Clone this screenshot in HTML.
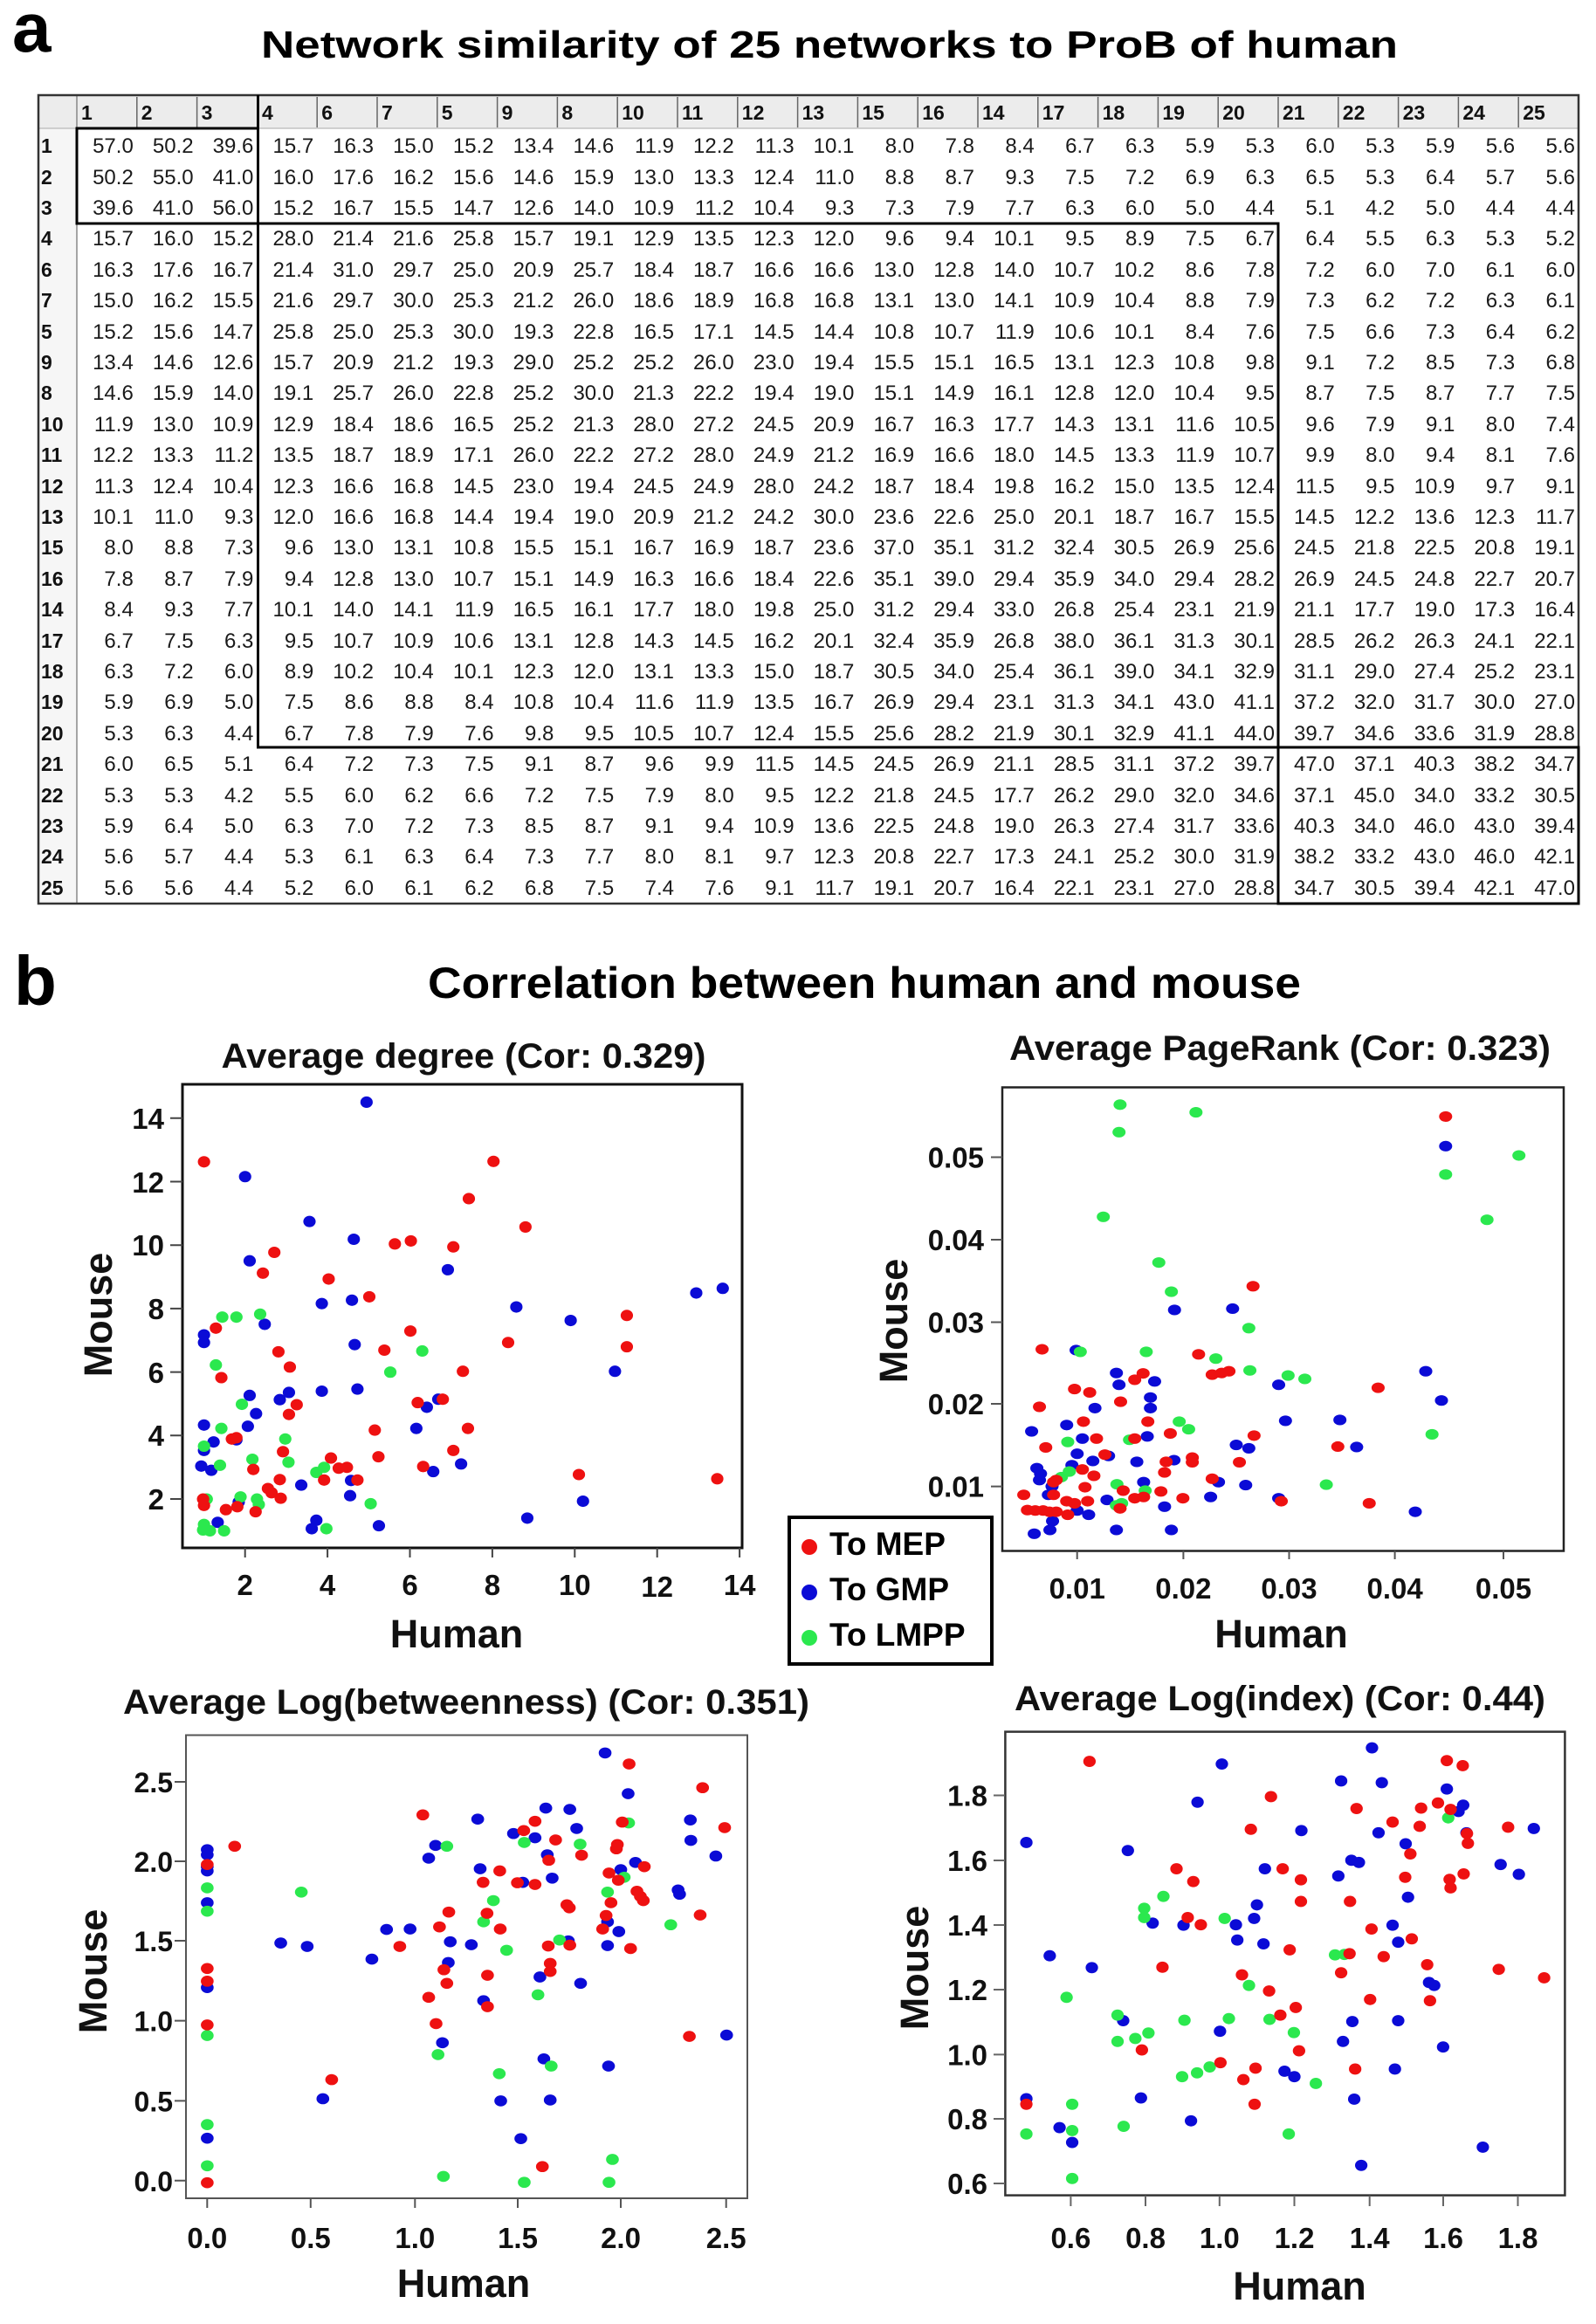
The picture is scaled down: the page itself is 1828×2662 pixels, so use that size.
<!DOCTYPE html>
<html><head><meta charset="utf-8">
<style>
html,body{margin:0;padding:0;background:#fff}
#wrap{position:relative;width:1828px;height:2662px;overflow:hidden;background:#fff}
svg{position:absolute;left:0;top:0}
.g{position:absolute;left:88px;top:150.3px;display:grid;grid-template-columns:repeat(25,68.8px);grid-auto-rows:35.4px;font:24px "Liberation Sans",Arial,sans-serif;color:#1a1a1a;line-height:35.4px}
.g i{font-style:normal;text-align:right;padding-right:4px;white-space:nowrap}
.r{position:absolute;left:47px;top:150.3px;display:grid;grid-auto-rows:35.4px;font:bold 23px "Liberation Sans",Arial,sans-serif;color:#111;line-height:35.4px}
</style></head><body><div id="wrap">
<svg width="1828" height="2662" viewBox="0 0 1828 2662" xmlns="http://www.w3.org/2000/svg" font-family="'Liberation Sans',Arial,sans-serif">
<!-- table backgrounds -->
<rect x="44" y="109" width="1764" height="38" fill="#ececec"/>
<rect x="44" y="147" width="44" height="888" fill="#f6f6f6"/>
<!-- titles -->
<text x="14" y="59" font-size="80" font-weight="bold" fill="#000">a</text>
<text x="299" y="66" font-size="44" font-weight="bold" fill="#000" textLength="1302" lengthAdjust="spacingAndGlyphs">Network similarity of 25 networks to ProB of human</text>
<!-- header separators -->
<g stroke="#666" stroke-width="1.5">
<path d="M156.8 111V146M225.6 111V146M363.2 111V146M432 111V146M500.8 111V146M569.6 111V146M638.4 111V146M707.2 111V146M776 111V146M844.8 111V146M913.6 111V146M982.4 111V146M1051.2 111V146M1120 111V146M1188.8 111V146M1257.6 111V146M1326.4 111V146M1395.2 111V146M1464 111V146M1532.8 111V146M1601.6 111V146M1670.4 111V146M1739.2 111V146"/>
</g>
<line x1="44" y1="147" x2="1808" y2="147" stroke="#aaa" stroke-width="1"/>
<line x1="88" y1="109" x2="88" y2="1035" stroke="#888" stroke-width="1.5"/>
<!-- header labels -->
<g font-size="23" font-weight="bold" fill="#111">
<text x="93" y="137">1</text><text x="161.8" y="137">2</text><text x="230.6" y="137">3</text><text x="300" y="137">4</text><text x="368.2" y="137">6</text><text x="437" y="137">7</text><text x="505.8" y="137">5</text><text x="574.6" y="137">9</text><text x="643.4" y="137">8</text><text x="712.2" y="137">10</text><text x="781" y="137">11</text><text x="849.8" y="137">12</text><text x="918.6" y="137">13</text><text x="987.4" y="137">15</text><text x="1056.2" y="137">16</text><text x="1125" y="137">14</text><text x="1193.8" y="137">17</text><text x="1262.6" y="137">18</text><text x="1331.4" y="137">19</text><text x="1400.2" y="137">20</text><text x="1469" y="137">21</text><text x="1537.8" y="137">22</text><text x="1606.6" y="137">23</text><text x="1675.4" y="137">24</text><text x="1744.2" y="137">25</text>
</g>
<!-- outer border and blocks -->
<rect x="44" y="109" width="1764" height="926" fill="none" stroke="#333" stroke-width="2.5"/>
<g fill="none" stroke="#000" stroke-width="3">
<rect x="88" y="147" width="207.5" height="109"/>
<line x1="295.5" y1="109" x2="295.5" y2="147"/>
<rect x="295.5" y="256" width="1168.5" height="600"/>
<rect x="1464" y="856" width="344" height="179"/>
</g>

<!-- section b -->
<text x="16" y="1151" font-size="80" font-weight="bold" fill="#000">b</text>
<text x="490" y="1143" font-size="50" font-weight="bold" fill="#000" textLength="1000" lengthAdjust="spacingAndGlyphs">Correlation between human and mouse</text>

<!-- Panel 1 -->
<text x="253.5" y="1223" font-size="40" font-weight="bold" fill="#111" textLength="555" lengthAdjust="spacingAndGlyphs">Average degree (Cor: 0.329)</text>
<rect x="209" y="1242" width="641" height="531" fill="none" stroke="#111" stroke-width="3"/>
<path d="M195 1717H209M195 1644.3H209M195 1571.6H209M195 1498.9H209M195 1426.2H209M195 1353.5H209M195 1280.8H209M280.7 1773V1784M375.1 1773V1784M469.5 1773V1784M563.9 1773V1784M658.3 1773V1784M752.7 1773V1784M847.1 1773V1784" stroke="#444" stroke-width="2"/>
<g font-size="33" font-weight="bold" fill="#111" text-anchor="end">
<text x="188" y="1729">2</text><text x="188" y="1656">4</text><text x="188" y="1584">6</text><text x="188" y="1511">8</text><text x="188" y="1438">10</text><text x="188" y="1366">12</text><text x="188" y="1293">14</text>
</g>
<g font-size="33" font-weight="bold" fill="#111" text-anchor="middle">
<text x="280.7" y="1827">2</text><text x="375.1" y="1827">4</text><text x="469.5" y="1827">6</text><text x="563.9" y="1827">8</text><text x="658.3" y="1827">10</text><text x="752.7" y="1829">12</text><text x="847.1" y="1827">14</text>
</g>
<text x="523" y="1887" font-size="45" font-weight="bold" text-anchor="middle" fill="#111">Human</text>
<text transform="translate(128 1506) rotate(-90)" font-size="45" font-weight="bold" text-anchor="middle" fill="#111">Mouse</text>
<g transform="translate(60 1150) scale(0.523 0.4847)" stroke-linecap="round" stroke-width="27" fill="none">
<path stroke="#0b0bd6" d="M688 232h.1M422 408h.1M563 514h.1M660 556h.1M432 607h.1M866 628h.1M590 708h.1M656 700h.1M465 757h.1M332 782h.1M332 800h.1M1410 683h.1M1468 672h.1M1016 716h.1M1135 748h.1M662 805h.1M1232 868h.1M432 925h.1M498 935h.1M518 918h.1M590 915h.1M668 910h.1M446 968h.1M428 998h.1M332 995h.1M353 1035h.1M403 1030h.1M332 1055h.1M326 1092h.1M348 1102h.1M545 1137h.1M654 1126h.1M652 1162h.1M820 953h.1M797 1003h.1M845 934h.1M895 1087h.1M834 1105h.1M1162 1175h.1M1040 1215h.1M715 1233h.1M362 1225h.1M568 1240h.1M578 1220h.1M408 1177h.1"/>
<path stroke="#2be84e" d="M372 740h.1M403 740h.1M455 733h.1M358 853h.1M740 870h.1M810 820h.1M415 946h.1M370 1003h.1M510 1028h.1M332 1045h.1M367 1090h.1M438 1076h.1M517 1083h.1M595 1095h.1M578 1107h.1M338 1170h.1M412 1165h.1M448 1170h.1M452 1183h.1M697 1181h.1M332 1230h.1M345 1245h.1M376 1245h.1M600 1240h.1M330 1243h.1"/>
<path stroke="#ee1111" d="M332 373h.1M966 372h.1M912 460h.1M1036 527h.1M750 567h.1M785 560h.1M878 574h.1M486 587h.1M461 636h.1M605 650h.1M694 692h.1M358 766h.1M495 822h.1M520 858h.1M370 883h.1M727 818h.1M784 773h.1M998 800h.1M1258 736h.1M1258 810h.1M899 868h.1M535 947h.1M518 970h.1M800 942h.1M855 934h.1M706 1007h.1M910 1003h.1M393 1028h.1M403 1025h.1M505 1058h.1M878 1055h.1M714 1070h.1M812 1093h.1M610 1073h.1M627 1097h.1M645 1095h.1M440 1100h.1M498 1124h.1M472 1145h.1M480 1155h.1M500 1168h.1M595 1125h.1M668 1125h.1M1153 1112h.1M1456 1122h.1M330 1170h.1M332 1185h.1M380 1195h.1M405 1188h.1M445 1200h.1"/>
</g>

<!-- Panel 2 -->
<text x="1156" y="1214" font-size="40" font-weight="bold" fill="#111" textLength="620" lengthAdjust="spacingAndGlyphs">Average PageRank (Cor: 0.323)</text>
<rect x="1148" y="1245.5" width="643" height="531" fill="none" stroke="#222" stroke-width="2.5"/>
<path d="M1135 1702.6H1148M1135 1608H1148M1135 1514.5H1148M1135 1420H1148M1135 1325.5H1148M1233.7 1776.5V1786M1355.4 1776.5V1786M1476.5 1776.5V1786M1597.6 1776.5V1786M1722 1776.5V1786" stroke="#555" stroke-width="2"/>
<g font-size="33" font-weight="bold" fill="#111" text-anchor="end">
<text x="1127" y="1714.6">0.01</text><text x="1127" y="1620">0.02</text><text x="1127" y="1526.5">0.03</text><text x="1127" y="1432">0.04</text><text x="1127" y="1337.5">0.05</text>
</g>
<g font-size="33" font-weight="bold" fill="#111" text-anchor="middle">
<text x="1233.7" y="1831">0.01</text><text x="1355.4" y="1831">0.02</text><text x="1476.5" y="1831">0.03</text><text x="1597.6" y="1831">0.04</text><text x="1722" y="1831">0.05</text>
</g>
<text x="1467.5" y="1887" font-size="45" font-weight="bold" text-anchor="middle" fill="#111">Human</text>
<text transform="translate(1039 1513) rotate(-90)" font-size="45" font-weight="bold" text-anchor="middle" fill="#111">Mouse</text>
<g transform="translate(880 1150) scale(0.5995 0.4847)" stroke-linecap="round" stroke-width="25" fill="none">
<path stroke="#0b0bd6" d="M588 818h.1M665 872h.1M670 900h.1M738 892h.1M730 930h.1M730 955h.1M776 723h.1M887 720h.1M624 955h.1M570 995h.1M503 1010h.1M600 1027h.1M590 1063h.1M724 1022h.1M520 1110h.1M513 1097h.1M518 1125h.1M542 1140h.1M535 1160h.1M620 1080h.1M650 1068h.1M704 1082h.1M717 1130h.1M775 1078h.1M894 1042h.1M918 1050h.1M912 1137h.1M860 1130h.1M845 1165h.1M975 900h.1M988 985h.1M1092 983h.1M1124 1047h.1M1256 868h.1M1286 937h.1M1236 1200h.1M975 1168h.1M757 1188h.1M612 1207h.1M590 1197h.1M665 1243h.1M770 1243h.1M508 1252h.1M538 1243h.1M543 1222h.1M647 1172h.1M580 1090h.1M1294 336h.1"/>
<path stroke="#2be84e" d="M672 238h.1M817 256h.1M670 303h.1M640 503h.1M746 611h.1M770 680h.1M918 766h.1M855 838h.1M920 866h.1M993 878h.1M1025 886h.1M722 822h.1M596 822h.1M1434 358h.1M1294 403h.1M1373 510h.1M1268 1017h.1M1066 1136h.1M785 987h.1M803 1005h.1M690 1030h.1M572 1035h.1M575 1105h.1M560 1118h.1M666 1135h.1M675 1180h.1M665 1185h.1M720 1150h.1"/>
<path stroke="#ee1111" d="M1294 266h.1M926 667h.1M523 816h.1M822 828h.1M518 952h.1M585 910h.1M614 918h.1M673 940h.1M700 888h.1M716 873h.1M725 987h.1M602 987h.1M530 1048h.1M627 1027h.1M700 1027h.1M768 1015h.1M848 876h.1M866 872h.1M880 868h.1M928 1020h.1M1165 907h.1M1088 1046h.1M1148 1180h.1M900 1083h.1M848 1122h.1M810 1072h.1M810 1083h.1M760 1082h.1M757 1107h.1M750 1152h.1M792 1168h.1M717 1165h.1M700 1168h.1M672 1192h.1M643 1065h.1M622 1115h.1M605 1142h.1M610 1175h.1M585 1180h.1M570 1175h.1M600 1100h.1M545 1130h.1M545 1160h.1M550 1125h.1M488 1160h.1M495 1196h.1M510 1197h.1M525 1197h.1M537 1200h.1M550 1200h.1M572 1207h.1M980 1175h.1M678 1150h.1"/>
</g>

<!-- Legend -->
<rect x="904" y="1738" width="232" height="168" fill="#fff" stroke="#000" stroke-width="4"/>
<circle cx="927" cy="1772" r="9" fill="#ee1111"/>
<circle cx="927" cy="1824" r="9" fill="#0b0bd6"/>
<circle cx="927" cy="1876" r="9" fill="#2be84e"/>
<g font-size="37" font-weight="bold" fill="#000">
<text x="950" y="1781">To MEP</text><text x="950" y="1833">To GMP</text><text x="950" y="1885">To LMPP</text>
</g>

<!-- Panel 3 -->
<text x="141" y="1963" font-size="40" font-weight="bold" fill="#111" textLength="786" lengthAdjust="spacingAndGlyphs">Average Log(betweenness) (Cor: 0.351)</text>
<rect x="213" y="1987.5" width="643" height="530.5" fill="none" stroke="#555" stroke-width="2"/>
<path d="M200 2041H213M200 2132H213M200 2223H213M200 2314.6H213M200 2406.4H213M200 2497.8H213M237.3 2518V2529M355.8 2518V2529M475.3 2518V2529M593 2518V2529M711 2518V2529M831.7 2518V2529" stroke="#555" stroke-width="2"/>
<g font-size="32" font-weight="bold" fill="#111" text-anchor="end">
<text x="198" y="2053">2.5</text><text x="198" y="2144">2.0</text><text x="198" y="2235">1.5</text><text x="198" y="2326.6">1.0</text><text x="198" y="2418.4">0.5</text><text x="198" y="2509.8">0.0</text>
</g>
<g font-size="33" font-weight="bold" fill="#111" text-anchor="middle">
<text x="237.3" y="2575">0.0</text><text x="355.8" y="2575">0.5</text><text x="475.3" y="2575">1.0</text><text x="593" y="2575">1.5</text><text x="711" y="2575">2.0</text><text x="831.7" y="2575">2.5</text>
</g>
<text x="531" y="2631" font-size="45" font-weight="bold" text-anchor="middle" fill="#111">Human</text>
<text transform="translate(122 2258) rotate(-90)" font-size="45" font-weight="bold" text-anchor="middle" fill="#111">Mouse</text>
<g transform="translate(60 1900) scale(0.5612 0.486)" stroke-linecap="round" stroke-width="26" fill="none">
<path stroke="#0b0bd6" d="M1128 222h.1M1175 318h.1M1007 352h.1M1056 355h.1M868 378h.1M1302 380h.1M1070 400h.1M941 412h.1M985 422h.1M1303 428h.1M782 440h.1M768 470h.1M1010 462h.1M1354 465h.1M1190 480h.1M1160 497h.1M873 495h.1M960 527h.1M1020 517h.1M1277 545h.1M1280 555h.1M316 450h.1M316 462h.1M316 490h.1M316 500h.1M316 575h.1M466 670h.1M520 678h.1M652 708h.1M682 638h.1M730 637h.1M812 667h.1M855 674h.1M808 716h.1M1053 665h.1M1133 676h.1M1133 620h.1M1156 643h.1M995 750h.1M1078 765h.1M880 806h.1M796 905h.1M1003 943h.1M1135 960h.1M1376 887h.1M552 1037h.1M915 1042h.1M1016 1040h.1M956 1131h.1M316 1130h.1M316 775h.1"/>
<path stroke="#2be84e" d="M805 442h.1M963 433h.1M1077 437h.1M1176 387h.1M1167 515h.1M508 550h.1M316 540h.1M316 595h.1M900 570h.1M880 620h.1M927 687h.1M1035 663h.1M1133 550h.1M1262 627h.1M991 792h.1M787 933h.1M912 978h.1M1018 960h.1M316 888h.1M316 1098h.1M316 1195h.1M798 1220h.1M963 1234h.1M1143 1180h.1M1136 1234h.1"/>
<path stroke="#ee1111" d="M756 368h.1M1177 248h.1M1327 304h.1M985 383h.1M962 405h.1M1027 427h.1M1080 463h.1M1153 438h.1M1151 448h.1M1163 385h.1M1208 490h.1M372 442h.1M316 485h.1M879 527h.1M913 500h.1M949 528h.1M985 532h.1M1013 475h.1M1136 505h.1M1155 522h.1M1193 548h.1M1200 560h.1M1206 570h.1M1140 575h.1M1130 605h.1M1050 580h.1M1055 587h.1M809 597h.1M887 600h.1M790 632h.1M914 637h.1M709 678h.1M1012 677h.1M1056 675h.1M1123 637h.1M1180 683h.1M1322 604h.1M799 733h.1M805 765h.1M888 746h.1M1016 718h.1M1016 737h.1M768 798h.1M888 820h.1M783 860h.1M316 730h.1M316 760h.1M316 863h.1M1300 890h.1M570 992h.1M1000 1197h.1M316 1235h.1M1372 398h.1"/>
</g>

<!-- Panel 4 -->
<text x="1162" y="1959" font-size="40" font-weight="bold" fill="#111" textLength="608" lengthAdjust="spacingAndGlyphs">Average Log(index) (Cor: 0.44)</text>
<rect x="1151.4" y="1983.6" width="641" height="531" fill="none" stroke="#333" stroke-width="2.5"/>
<path d="M1138 2056.5H1151M1138 2131H1151M1138 2205H1151M1138 2279H1151M1138 2353.4H1151M1138 2427H1151M1138 2501H1151M1226.4 2515V2527M1312 2515V2527M1396.8 2515V2527M1482.5 2515V2527M1568.7 2515V2527M1653 2515V2527M1738.5 2515V2527" stroke="#666" stroke-width="2"/>
<g font-size="33" font-weight="bold" fill="#111" text-anchor="end">
<text x="1131" y="2068.5">1.8</text><text x="1131" y="2143">1.6</text><text x="1131" y="2217">1.4</text><text x="1131" y="2291">1.2</text><text x="1131" y="2365.4">1.0</text><text x="1131" y="2439">0.8</text><text x="1131" y="2513">0.6</text>
</g>
<g font-size="33" font-weight="bold" fill="#111" text-anchor="middle">
<text x="1226.4" y="2575">0.6</text><text x="1312" y="2575">0.8</text><text x="1396.8" y="2575">1.0</text><text x="1482.5" y="2575">1.2</text><text x="1568.7" y="2575">1.4</text><text x="1653" y="2575">1.6</text><text x="1738.5" y="2575">1.8</text>
</g>
<text x="1488.5" y="2634" font-size="45" font-weight="bold" text-anchor="middle" fill="#111">Human</text>
<text transform="translate(1063 2254) rotate(-90)" font-size="45" font-weight="bold" text-anchor="middle" fill="#111">Mouse</text>
<g transform="translate(980 1900) scale(0.5357 0.486)" stroke-linecap="round" stroke-width="26.5" fill="none">
<path stroke="#0b0bd6" d="M1104 210h.1M783 248h.1M1038 288h.1M1125 292h.1M731 338h.1M1264 307h.1M1299 345h.1M1289 360h.1M953 405h.1M1118 410h.1M1306 410h.1M1450 400h.1M365 433h.1M582 452h.1M1176 436h.1M875 495h.1M1032 512h.1M1060 475h.1M1076 480h.1M1379 485h.1M1418 508h.1M1181 562h.1M858 580h.1M852 612h.1M635 623h.1M701 628h.1M813 627h.1M816 663h.1M872 672h.1M1148 628h.1M1160 668h.1M415 700h.1M505 728h.1M1226 763h.1M1237 770h.1M572 853h.1M779 878h.1M1062 855h.1M1160 853h.1M1042 902h.1M1256 915h.1M917 972h.1M938 985h.1M1153 967h.1M365 1037h.1M610 1035h.1M717 1089h.1M436 1105h.1M463 1140h.1M1066 1038h.1M1341 1151h.1M1081 1194h.1"/>
<path stroke="#2be84e" d="M1267 375h.1M658 560h.1M617 588h.1M617 610h.1M789 612h.1M1025 698h.1M1045 697h.1M841 770h.1M451 798h.1M560 840h.1M560 902h.1M598 895h.1M626 882h.1M703 852h.1M798 848h.1M885 850h.1M937 881h.1M698 985h.1M730 976h.1M757 962h.1M984 1001h.1M365 1120h.1M463 1050h.1M463 1112h.1M573 1102h.1M926 1120h.1M463 1225h.1"/>
<path stroke="#ee1111" d="M500 242h.1M1264 240h.1M1298 252h.1M888 325h.1M1071 353h.1M1209 352h.1M1245 340h.1M1272 355h.1M1148 385h.1M845 402h.1M1206 395h.1M1395 397h.1M1307 412h.1M1309 435h.1M686 495h.1M722 525h.1M913 495h.1M952 521h.1M1186 460h.1M1270 520h.1M1272 540h.1M1300 507h.1M1175 515h.1M952 572h.1M1057 572h.1M710 610h.1M738 627h.1M1103 637h.1M1189 660h.1M928 686h.1M1056 695h.1M1129 702h.1M1222 721h.1M1038 740h.1M1375 732h.1M1472 752h.1M656 727h.1M826 745h.1M884 783h.1M1100 803h.1M1228 806h.1M908 840h.1M941 822h.1M612 922h.1M948 924h.1M780 952h.1M829 992h.1M855 965h.1M1068 967h.1M853 1050h.1M365 1050h.1"/>
</g>
</svg>

<div class="r"><b>1</b><b>2</b><b>3</b><b>4</b><b>6</b><b>7</b><b>5</b><b>9</b><b>8</b><b>10</b><b>11</b><b>12</b><b>13</b><b>15</b><b>16</b><b>14</b><b>17</b><b>18</b><b>19</b><b>20</b><b>21</b><b>22</b><b>23</b><b>24</b><b>25</b></div>

<div class="g">
<i>57.0</i><i>50.2</i><i>39.6</i><i>15.7</i><i>16.3</i><i>15.0</i><i>15.2</i><i>13.4</i><i>14.6</i><i>11.9</i><i>12.2</i><i>11.3</i><i>10.1</i><i>8.0</i><i>7.8</i><i>8.4</i><i>6.7</i><i>6.3</i><i>5.9</i><i>5.3</i><i>6.0</i><i>5.3</i><i>5.9</i><i>5.6</i><i>5.6</i>
<i>50.2</i><i>55.0</i><i>41.0</i><i>16.0</i><i>17.6</i><i>16.2</i><i>15.6</i><i>14.6</i><i>15.9</i><i>13.0</i><i>13.3</i><i>12.4</i><i>11.0</i><i>8.8</i><i>8.7</i><i>9.3</i><i>7.5</i><i>7.2</i><i>6.9</i><i>6.3</i><i>6.5</i><i>5.3</i><i>6.4</i><i>5.7</i><i>5.6</i>
<i>39.6</i><i>41.0</i><i>56.0</i><i>15.2</i><i>16.7</i><i>15.5</i><i>14.7</i><i>12.6</i><i>14.0</i><i>10.9</i><i>11.2</i><i>10.4</i><i>9.3</i><i>7.3</i><i>7.9</i><i>7.7</i><i>6.3</i><i>6.0</i><i>5.0</i><i>4.4</i><i>5.1</i><i>4.2</i><i>5.0</i><i>4.4</i><i>4.4</i>
<i>15.7</i><i>16.0</i><i>15.2</i><i>28.0</i><i>21.4</i><i>21.6</i><i>25.8</i><i>15.7</i><i>19.1</i><i>12.9</i><i>13.5</i><i>12.3</i><i>12.0</i><i>9.6</i><i>9.4</i><i>10.1</i><i>9.5</i><i>8.9</i><i>7.5</i><i>6.7</i><i>6.4</i><i>5.5</i><i>6.3</i><i>5.3</i><i>5.2</i>
<i>16.3</i><i>17.6</i><i>16.7</i><i>21.4</i><i>31.0</i><i>29.7</i><i>25.0</i><i>20.9</i><i>25.7</i><i>18.4</i><i>18.7</i><i>16.6</i><i>16.6</i><i>13.0</i><i>12.8</i><i>14.0</i><i>10.7</i><i>10.2</i><i>8.6</i><i>7.8</i><i>7.2</i><i>6.0</i><i>7.0</i><i>6.1</i><i>6.0</i>
<i>15.0</i><i>16.2</i><i>15.5</i><i>21.6</i><i>29.7</i><i>30.0</i><i>25.3</i><i>21.2</i><i>26.0</i><i>18.6</i><i>18.9</i><i>16.8</i><i>16.8</i><i>13.1</i><i>13.0</i><i>14.1</i><i>10.9</i><i>10.4</i><i>8.8</i><i>7.9</i><i>7.3</i><i>6.2</i><i>7.2</i><i>6.3</i><i>6.1</i>
<i>15.2</i><i>15.6</i><i>14.7</i><i>25.8</i><i>25.0</i><i>25.3</i><i>30.0</i><i>19.3</i><i>22.8</i><i>16.5</i><i>17.1</i><i>14.5</i><i>14.4</i><i>10.8</i><i>10.7</i><i>11.9</i><i>10.6</i><i>10.1</i><i>8.4</i><i>7.6</i><i>7.5</i><i>6.6</i><i>7.3</i><i>6.4</i><i>6.2</i>
<i>13.4</i><i>14.6</i><i>12.6</i><i>15.7</i><i>20.9</i><i>21.2</i><i>19.3</i><i>29.0</i><i>25.2</i><i>25.2</i><i>26.0</i><i>23.0</i><i>19.4</i><i>15.5</i><i>15.1</i><i>16.5</i><i>13.1</i><i>12.3</i><i>10.8</i><i>9.8</i><i>9.1</i><i>7.2</i><i>8.5</i><i>7.3</i><i>6.8</i>
<i>14.6</i><i>15.9</i><i>14.0</i><i>19.1</i><i>25.7</i><i>26.0</i><i>22.8</i><i>25.2</i><i>30.0</i><i>21.3</i><i>22.2</i><i>19.4</i><i>19.0</i><i>15.1</i><i>14.9</i><i>16.1</i><i>12.8</i><i>12.0</i><i>10.4</i><i>9.5</i><i>8.7</i><i>7.5</i><i>8.7</i><i>7.7</i><i>7.5</i>
<i>11.9</i><i>13.0</i><i>10.9</i><i>12.9</i><i>18.4</i><i>18.6</i><i>16.5</i><i>25.2</i><i>21.3</i><i>28.0</i><i>27.2</i><i>24.5</i><i>20.9</i><i>16.7</i><i>16.3</i><i>17.7</i><i>14.3</i><i>13.1</i><i>11.6</i><i>10.5</i><i>9.6</i><i>7.9</i><i>9.1</i><i>8.0</i><i>7.4</i>
<i>12.2</i><i>13.3</i><i>11.2</i><i>13.5</i><i>18.7</i><i>18.9</i><i>17.1</i><i>26.0</i><i>22.2</i><i>27.2</i><i>28.0</i><i>24.9</i><i>21.2</i><i>16.9</i><i>16.6</i><i>18.0</i><i>14.5</i><i>13.3</i><i>11.9</i><i>10.7</i><i>9.9</i><i>8.0</i><i>9.4</i><i>8.1</i><i>7.6</i>
<i>11.3</i><i>12.4</i><i>10.4</i><i>12.3</i><i>16.6</i><i>16.8</i><i>14.5</i><i>23.0</i><i>19.4</i><i>24.5</i><i>24.9</i><i>28.0</i><i>24.2</i><i>18.7</i><i>18.4</i><i>19.8</i><i>16.2</i><i>15.0</i><i>13.5</i><i>12.4</i><i>11.5</i><i>9.5</i><i>10.9</i><i>9.7</i><i>9.1</i>
<i>10.1</i><i>11.0</i><i>9.3</i><i>12.0</i><i>16.6</i><i>16.8</i><i>14.4</i><i>19.4</i><i>19.0</i><i>20.9</i><i>21.2</i><i>24.2</i><i>30.0</i><i>23.6</i><i>22.6</i><i>25.0</i><i>20.1</i><i>18.7</i><i>16.7</i><i>15.5</i><i>14.5</i><i>12.2</i><i>13.6</i><i>12.3</i><i>11.7</i>
<i>8.0</i><i>8.8</i><i>7.3</i><i>9.6</i><i>13.0</i><i>13.1</i><i>10.8</i><i>15.5</i><i>15.1</i><i>16.7</i><i>16.9</i><i>18.7</i><i>23.6</i><i>37.0</i><i>35.1</i><i>31.2</i><i>32.4</i><i>30.5</i><i>26.9</i><i>25.6</i><i>24.5</i><i>21.8</i><i>22.5</i><i>20.8</i><i>19.1</i>
<i>7.8</i><i>8.7</i><i>7.9</i><i>9.4</i><i>12.8</i><i>13.0</i><i>10.7</i><i>15.1</i><i>14.9</i><i>16.3</i><i>16.6</i><i>18.4</i><i>22.6</i><i>35.1</i><i>39.0</i><i>29.4</i><i>35.9</i><i>34.0</i><i>29.4</i><i>28.2</i><i>26.9</i><i>24.5</i><i>24.8</i><i>22.7</i><i>20.7</i>
<i>8.4</i><i>9.3</i><i>7.7</i><i>10.1</i><i>14.0</i><i>14.1</i><i>11.9</i><i>16.5</i><i>16.1</i><i>17.7</i><i>18.0</i><i>19.8</i><i>25.0</i><i>31.2</i><i>29.4</i><i>33.0</i><i>26.8</i><i>25.4</i><i>23.1</i><i>21.9</i><i>21.1</i><i>17.7</i><i>19.0</i><i>17.3</i><i>16.4</i>
<i>6.7</i><i>7.5</i><i>6.3</i><i>9.5</i><i>10.7</i><i>10.9</i><i>10.6</i><i>13.1</i><i>12.8</i><i>14.3</i><i>14.5</i><i>16.2</i><i>20.1</i><i>32.4</i><i>35.9</i><i>26.8</i><i>38.0</i><i>36.1</i><i>31.3</i><i>30.1</i><i>28.5</i><i>26.2</i><i>26.3</i><i>24.1</i><i>22.1</i>
<i>6.3</i><i>7.2</i><i>6.0</i><i>8.9</i><i>10.2</i><i>10.4</i><i>10.1</i><i>12.3</i><i>12.0</i><i>13.1</i><i>13.3</i><i>15.0</i><i>18.7</i><i>30.5</i><i>34.0</i><i>25.4</i><i>36.1</i><i>39.0</i><i>34.1</i><i>32.9</i><i>31.1</i><i>29.0</i><i>27.4</i><i>25.2</i><i>23.1</i>
<i>5.9</i><i>6.9</i><i>5.0</i><i>7.5</i><i>8.6</i><i>8.8</i><i>8.4</i><i>10.8</i><i>10.4</i><i>11.6</i><i>11.9</i><i>13.5</i><i>16.7</i><i>26.9</i><i>29.4</i><i>23.1</i><i>31.3</i><i>34.1</i><i>43.0</i><i>41.1</i><i>37.2</i><i>32.0</i><i>31.7</i><i>30.0</i><i>27.0</i>
<i>5.3</i><i>6.3</i><i>4.4</i><i>6.7</i><i>7.8</i><i>7.9</i><i>7.6</i><i>9.8</i><i>9.5</i><i>10.5</i><i>10.7</i><i>12.4</i><i>15.5</i><i>25.6</i><i>28.2</i><i>21.9</i><i>30.1</i><i>32.9</i><i>41.1</i><i>44.0</i><i>39.7</i><i>34.6</i><i>33.6</i><i>31.9</i><i>28.8</i>
<i>6.0</i><i>6.5</i><i>5.1</i><i>6.4</i><i>7.2</i><i>7.3</i><i>7.5</i><i>9.1</i><i>8.7</i><i>9.6</i><i>9.9</i><i>11.5</i><i>14.5</i><i>24.5</i><i>26.9</i><i>21.1</i><i>28.5</i><i>31.1</i><i>37.2</i><i>39.7</i><i>47.0</i><i>37.1</i><i>40.3</i><i>38.2</i><i>34.7</i>
<i>5.3</i><i>5.3</i><i>4.2</i><i>5.5</i><i>6.0</i><i>6.2</i><i>6.6</i><i>7.2</i><i>7.5</i><i>7.9</i><i>8.0</i><i>9.5</i><i>12.2</i><i>21.8</i><i>24.5</i><i>17.7</i><i>26.2</i><i>29.0</i><i>32.0</i><i>34.6</i><i>37.1</i><i>45.0</i><i>34.0</i><i>33.2</i><i>30.5</i>
<i>5.9</i><i>6.4</i><i>5.0</i><i>6.3</i><i>7.0</i><i>7.2</i><i>7.3</i><i>8.5</i><i>8.7</i><i>9.1</i><i>9.4</i><i>10.9</i><i>13.6</i><i>22.5</i><i>24.8</i><i>19.0</i><i>26.3</i><i>27.4</i><i>31.7</i><i>33.6</i><i>40.3</i><i>34.0</i><i>46.0</i><i>43.0</i><i>39.4</i>
<i>5.6</i><i>5.7</i><i>4.4</i><i>5.3</i><i>6.1</i><i>6.3</i><i>6.4</i><i>7.3</i><i>7.7</i><i>8.0</i><i>8.1</i><i>9.7</i><i>12.3</i><i>20.8</i><i>22.7</i><i>17.3</i><i>24.1</i><i>25.2</i><i>30.0</i><i>31.9</i><i>38.2</i><i>33.2</i><i>43.0</i><i>46.0</i><i>42.1</i>
<i>5.6</i><i>5.6</i><i>4.4</i><i>5.2</i><i>6.0</i><i>6.1</i><i>6.2</i><i>6.8</i><i>7.5</i><i>7.4</i><i>7.6</i><i>9.1</i><i>11.7</i><i>19.1</i><i>20.7</i><i>16.4</i><i>22.1</i><i>23.1</i><i>27.0</i><i>28.8</i><i>34.7</i><i>30.5</i><i>39.4</i><i>42.1</i><i>47.0</i>
</div>
</div></body></html>
